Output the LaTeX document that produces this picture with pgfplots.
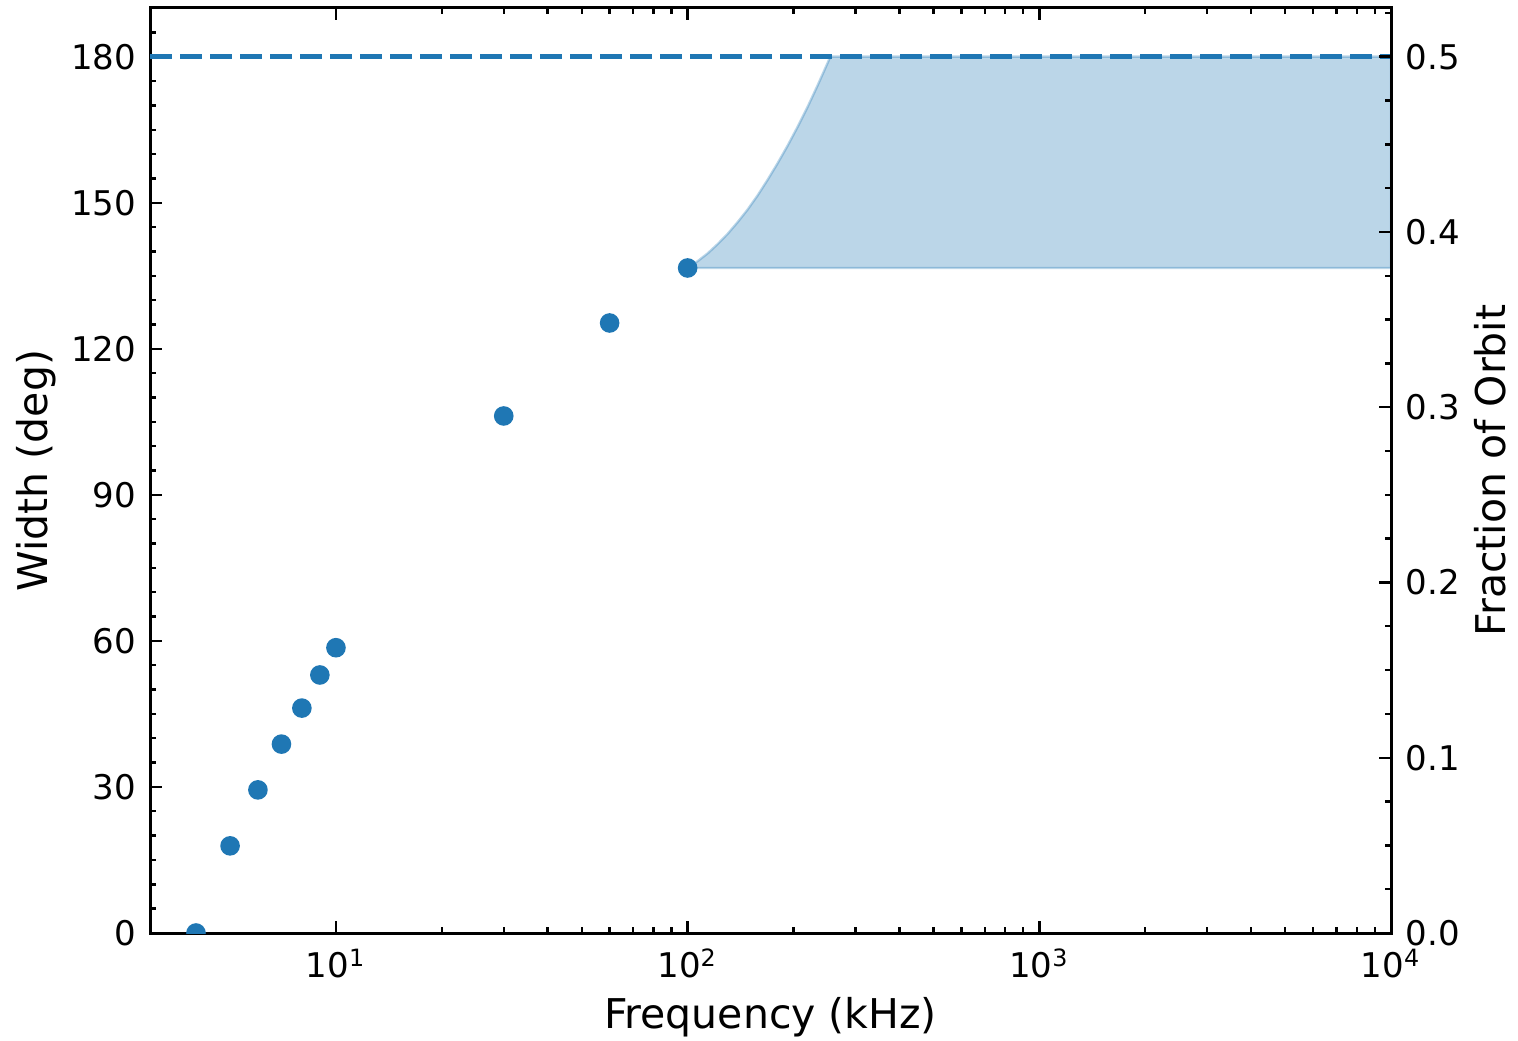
\documentclass[border=0pt]{standalone}
\usepackage{fontspec}
\setmainfont{DejaVu Sans}
\usepackage{pgfplots}
\pgfplotsset{compat=1.18}
\definecolor{c0}{RGB}{31,119,180}
\begin{document}
\begin{tikzpicture}
\useasboundingbox (-37.5pt,-26.75pt) rectangle (342pt,233.25pt);
\begin{axis}[
  scale only axis, width=310.25pt, height=231.25pt,
  xmode=log, xmin=2.96, xmax=10000, ymin=0, ymax=190,
  axis line style={line width=0.75pt},
  tick style={line width=0.6pt, black},
  major tick length=3pt, minor tick length=1.5pt,
  tick align=inside,
  xtick pos=both, ytick pos=left,
  xtick={10,100,1000,10000},
  xticklabels={10\textsuperscript{1},10\textsuperscript{2},10\textsuperscript{3},10\textsuperscript{4}},
  ytick={0,30,60,90,120,150,180},
  yticklabels={0,30,60,90,120,150,180},
  minor ytick={0,5,...,190},
  tick label style={font=\fontsize{8.5}{10}\selectfont},
  x tick label style={anchor=north, inner sep=0pt, yshift=-3.75pt},
  y tick label style={anchor=east, inner sep=0pt, xshift=-3.25pt},
  xlabel={Frequency (kHz)}, ylabel={Width (deg)},
  label style={font=\fontsize{10.25}{12}\selectfont},
  xlabel style={at={(axis description cs:0.5,0)}, anchor=center, yshift=-21pt},
  ylabel style={at={(axis description cs:0,0.5)}, anchor=center, yshift=28.5pt},
  clip marker paths=true,
]
\addplot[fill=c0, fill opacity=0.3, draw=c0, draw opacity=0.3, line width=0.6pt] coordinates {
 (100,136.6) (106.8,138.0) (114.0,139.6) (121.7,141.5) (129.9,143.6) (138.7,146.0) (148.1,148.6) (158.1,151.5) (168.8,154.7) (180.2,158.1) (192.4,161.7) (205.5,165.6) (219.4,169.7) (234.2,174.1) (250.0,178.7) (254.5,180) (10000,180) (10000,136.6)} -- cycle;
\addplot[c0, line width=1.1pt, dash pattern=on 5.5pt off 2pt] coordinates {(2.96,180) (10000,180)};
\addplot[only marks, mark=*, mark size=2.25pt, c0, mark options={draw=c0, fill=c0}] coordinates {
 (4,0) (5,17.9) (6,29.4) (7,38.8) (8,46.2) (9,53.0) (10,58.6) (30,106.2) (60,125.3) (100,136.6)};
\end{axis}
\begin{axis}[
  scale only axis, width=310.25pt, height=231.25pt,
  xmode=log, xmin=2.96, xmax=10000, ymin=0, ymax=0.527778,
  axis x line=none, axis y line*=right,
  axis line style={line width=0.75pt},
  tick style={line width=0.6pt, black},
  major tick length=3pt, minor tick length=1.5pt,
  tick align=inside,
  ytick pos=right,
  ytick={0,0.1,0.2,0.3,0.4,0.5},
  yticklabels={0.0,0.1,0.2,0.3,0.4,0.5},
  minor ytick={0.025,0.05,0.075,0.125,0.15,0.175,0.225,0.25,0.275,0.325,0.35,0.375,0.425,0.45,0.475,0.525},
  tick label style={font=\fontsize{8.5}{10}\selectfont},
  y tick label style={anchor=west, inner sep=0pt, xshift=3.5pt},
  ylabel={Fraction of Orbit},
  label style={font=\fontsize{10.25}{12}\selectfont},
  ylabel style={at={(axis description cs:1,0.5)}, anchor=center, yshift=-24.75pt},
]
\end{axis}
\end{tikzpicture}
\end{document}
